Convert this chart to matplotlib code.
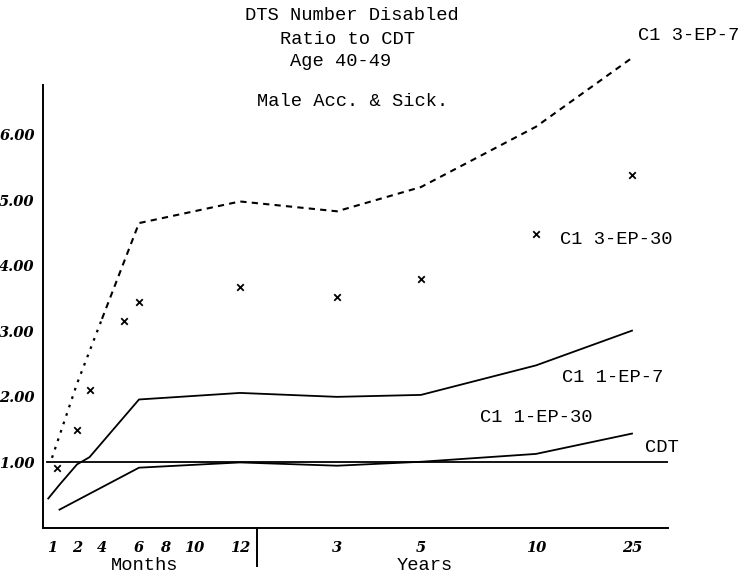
import numpy as np
import matplotlib
matplotlib.use('Agg')
import matplotlib.pyplot as plt
from matplotlib.lines import Line2D

# tick layout of the hand-drawn time axis (months -> drawn position)
tick_months = [1, 2, 4, 6, 8, 10, 12, 36, 60, 120, 300]
tick_labels = ['1', '2', '4', '6', '8', '10', '12', '3', '5', '10', '25']
anchor_months = [0, 1, 2, 4, 6, 8, 10, 12, 36, 60, 120, 300, 420]
anchor_pos = [27, 52, 77, 102, 139, 165, 194, 240, 337, 421, 536, 632, 668]

# series values (ratio to CDT)
ep3_7_months = [1, 2, 4, 6, 12, 36, 60, 120, 300]
ep3_7_vals = [1.07, 2.2, 3.19, 4.65, 4.98, 4.83, 5.2, 6.12, 7.17]

ep3_30_months = [1.2, 2, 3, 5.2, 6, 12, 36, 60, 120, 300]
ep3_30_vals = [0.92, 1.49, 2.10, 3.15, 3.44, 3.67, 3.52, 3.79, 4.49, 5.38]

ep1_7_months = [0.85, 1.3, 2, 3, 6, 12, 36, 60, 120, 300]
ep1_7_vals = [0.45, 0.66, 0.97, 1.08, 1.96, 2.06, 2.0, 2.03, 2.48, 3.01]

ep1_30_months = [1.3, 6, 12, 36, 60, 120, 300]
ep1_30_vals = [0.28, 0.92, 1.0, 0.95, 1.01, 1.13, 1.44]

cdt_months = [0.8, 420]
cdt_vals = [1.0, 1.0]

y_ticks = [1, 2, 3, 4, 5, 6]
y_labels = ['1.00', '2.00', '3.00', '4.00', '5.00', '6.00']

W, H = 745, 578
mono = 'Liberation Mono'


def fwd(m):
    return np.interp(m, anchor_months, anchor_pos)


def inv(p):
    return np.interp(p, anchor_pos, anchor_months)


fig = plt.figure(figsize=(W / 100, H / 100), dpi=100)
ax = fig.add_axes([43 / W, 1 - 528 / H, (668 - 43) / W, (528 - 50) / H])
ax.set_xscale('function', functions=(fwd, inv))
ax.set_xlim(0.64, 420)
ax.set_ylim(0, 7.29)

ax.plot(ep3_7_months[:3], ep3_7_vals[:3], color='black', lw=1.6,
        linestyle=(0, (1.2, 2.8)), clip_on=False)
ax.plot(ep3_7_months[2:], ep3_7_vals[2:], color='black', lw=1.5,
        linestyle=(0, (3, 2.5)), clip_on=False)
ax.scatter(ep3_30_months, ep3_30_vals, marker='x', s=22, color='black',
           linewidths=1.3, clip_on=False)
ax.plot(ep1_7_months, ep1_7_vals, color='black', lw=1.3)
ax.plot(ep1_30_months, ep1_30_vals, color='black', lw=1.3)
ax.plot(cdt_months, cdt_vals, color='black', lw=1.3)

for s in ['top', 'right']:
    ax.spines[s].set_visible(False)
ax.spines['left'].set_bounds(0, 6.76)
ax.spines['left'].set_linewidth(1.4)
ax.spines['bottom'].set_linewidth(1.4)

ax.set_xticks(tick_months)
ax.set_xticklabels(tick_labels)
ax.xaxis.set_minor_locator(matplotlib.ticker.NullLocator())
ax.set_yticks(y_ticks)
ax.set_yticklabels(y_labels)
ax.tick_params(axis='x', length=0, pad=9)
ax.tick_params(axis='y', length=0, pad=6)
for lab in ax.get_xticklabels() + ax.get_yticklabels():
    lab.set_fontstyle('italic')
    lab.set_fontweight('bold')
    lab.set_fontfamily('DejaVu Serif')
    lab.set_fontsize(10.5)

# titles and labels, typewriter style
def put(text, x, y, ha='center'):
    fig.text(x / W, 1 - y / H, text, ha=ha, va='center',
             fontfamily=mono, fontsize=13.5)

put('DTS Number Disabled', 352, 15)
put('Ratio to CDT', 347, 40)
put('Age 40-49', 341, 62)
put('Male Acc. & Sick.', 353, 101)

put('C1 3-EP-7', 638, 35, ha='left')
put('C1 3-EP-30', 560, 240, ha='left')
put('C1 1-EP-7', 562, 377, ha='left')
put('C1 1-EP-30', 480, 418, ha='left')
put('CDT', 645, 447, ha='left')

put('Months', 145, 566)
put('Years', 425, 566)

fig.add_artist(Line2D([257 / W, 257 / W], [1 - 528 / H, 1 - 566 / H],
                      color='black', lw=1.4))

fig.savefig('out.png', dpi=100)
